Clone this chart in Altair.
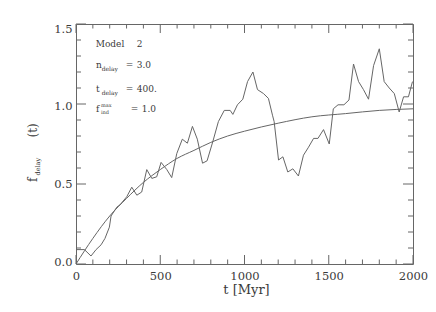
import altair as alt
import pandas as pd

# smooth model curve
curve_t = [0, 100, 200, 300, 400, 500, 600, 700, 800, 900, 1000, 1200, 1400, 1600, 1800, 2000]
curve_f = [0.0, 0.16, 0.30, 0.41, 0.51, 0.59, 0.66, 0.71, 0.76, 0.80, 0.83, 0.88, 0.92, 0.94, 0.96, 0.97]

# noisy simulated series
sim_t = [0, 50, 89, 119, 149, 172, 198, 208, 242, 261, 301, 331, 361, 390, 420, 450, 479, 505,
         539, 568, 598, 631, 661, 691, 720, 751, 778, 812, 845, 880, 915, 931, 958, 990, 1018,
         1050, 1077, 1113, 1142, 1166, 1176, 1202, 1228, 1257, 1287, 1320, 1350, 1380, 1410,
         1436, 1469, 1503, 1527, 1555, 1590, 1620, 1647, 1677, 1706, 1736, 1766, 1800, 1829,
         1859, 1889, 1918, 1944, 1973, 1997]
sim_f = [0.09, 0.09, 0.05, 0.09, 0.12, 0.16, 0.23, 0.30, 0.355, 0.37, 0.42, 0.48, 0.43, 0.45,
         0.59, 0.535, 0.545, 0.635, 0.59, 0.54, 0.69, 0.78, 0.755, 0.86, 0.78, 0.63, 0.645,
         0.765, 0.89, 0.96, 0.96, 0.935, 0.995, 1.03, 1.14, 1.20, 1.09, 1.065, 1.035, 0.93,
         0.89, 0.65, 0.67, 0.575, 0.595, 0.55, 0.68, 0.73, 0.785, 0.785, 0.84, 0.75, 0.97,
         0.995, 0.995, 1.025, 1.25, 1.14, 1.09, 1.03, 1.24, 1.345, 1.14, 1.10, 1.065, 0.95,
         1.045, 1.045, 1.14]

x_major = [0, 500, 1000, 1500, 2000]
x_minor = [100, 200, 300, 400, 600, 700, 800, 900, 1100, 1200, 1300, 1400, 1600, 1700, 1800, 1900]
y_major = [0.0, 0.5, 1.0, 1.5]
y_minor = [0.1, 0.2, 0.3, 0.4, 0.6, 0.7, 0.8, 0.9, 1.1, 1.2, 1.3, 1.4]

W, H = 337, 240
FONT = "DejaVu Serif"
LC = "#666666"
TC = "#3a3a3a"
XMAJ, XMIN = 9, 4.5
YMAJ, YMIN = 10, 5

curve_df = pd.DataFrame({"t": curve_t, "f": curve_f})
sim_df = pd.DataFrame({"t": sim_t, "f": sim_f})

x_axis = alt.Axis(
    values=x_major, grid=False, ticks=False, domain=False, labelPadding=6.5,
    labelFont=FONT, labelFontSize=11.5, labelColor=TC, labelFlush=False, labelOverlap=False,
    format="d", title=None,
)
y_axis = alt.Axis(
    values=y_major, grid=False, ticks=False, domain=False, labelPadding=4,
    labelFont=FONT, labelFontSize=11.5, labelColor=TC, labelFlush=False, labelOverlap=False,
    format=".1f",
    labelOffset={"condition": [{"test": "datum.value === 1.5", "value": 5},
                               {"test": "datum.value === 1", "value": 2.5},
                               {"test": "datum.value === 0", "value": -1.5}],
                 "value": 0},
    title=None,
)

xs = alt.Scale(domain=[0, 2000], nice=False, zero=False)
ys = alt.Scale(domain=[0, 1.5], nice=False, zero=False)
xenc = alt.X("t:Q", scale=xs, axis=x_axis)
yenc = alt.Y("f:Q", scale=ys, axis=y_axis)

curve = alt.Chart(curve_df).mark_line(color=LC, strokeWidth=1, interpolate="monotone").encode(x=xenc, y=yenc)
sim = alt.Chart(sim_df).mark_line(color=LC, strokeWidth=1).encode(x=xenc, y=yenc)


def xticks(vals, size):
    d = pd.DataFrame({"t": vals})
    bot = alt.Chart(d).mark_rule(color=LC, strokeWidth=1).encode(x=xenc, y=alt.value(H), y2=alt.value(H - size))
    top = alt.Chart(d).mark_rule(color=LC, strokeWidth=1).encode(x=xenc, y=alt.value(0), y2=alt.value(size))
    return [bot, top]


def yticks(vals, size):
    d = pd.DataFrame({"f": vals})
    lef = alt.Chart(d).mark_rule(color=LC, strokeWidth=1).encode(y=yenc, x=alt.value(0), x2=alt.value(size))
    rig = alt.Chart(d).mark_rule(color=LC, strokeWidth=1).encode(y=yenc, x=alt.value(W), x2=alt.value(W - size))
    return [lef, rig]


ticks = xticks(x_major, XMAJ) + xticks(x_minor, XMIN) + yticks(y_major, YMAJ) + yticks(y_minor, YMIN)

one = pd.DataFrame({"k": [0]})


def label(s, x, y, size=9, angle=None, align="left"):
    props = dict(font=FONT, fontSize=size, color=TC, align=align, baseline="alphabetic", text=s)
    if angle is not None:
        props["angle"] = angle
    return alt.Chart(one).mark_text(**props).encode(x=alt.value(x), y=alt.value(y))


texts = [
    label("Model", 19.7, 23.3),
    label("2", 60.7, 23.3),
    label("n", 20, 43.5),
    label("delay", 25.7, 46.5, 6),
    label("=", 49.7, 43.5),
    label("3.0", 60.7, 43.5),
    label("t", 20, 67.7),
    label("delay", 25.7, 70.7, 6),
    label("=", 49.7, 67.7),
    label("400.", 60.7, 67.7),
    label("f", 20, 87.7),
    label("max", 25, 83.0, 5),
    label("ind", 25, 89.5, 5),
    label("=", 54.7, 87.7),
    label("1.0", 65.7, 87.7),
    # axis titles
    label("t [Myr]", W / 2 + 2, 269.5, 13, align="center"),
    label("f", -39.3, 158, 12, angle=270),
    label("delay", -36.5, 151.5, 6.5, angle=270),
    label("(t)", -39.3, 113.5, 12, angle=270),
]

chart = alt.layer(curve, sim, *ticks, *texts).properties(
    width=W, height=H,
    autosize="none",
    padding={"left": 68, "top": 16, "right": 15, "bottom": 40},
).configure_view(stroke=LC, strokeWidth=1)

chart.save("out.html", embed_options={"renderer": "svg", "actions": False})
